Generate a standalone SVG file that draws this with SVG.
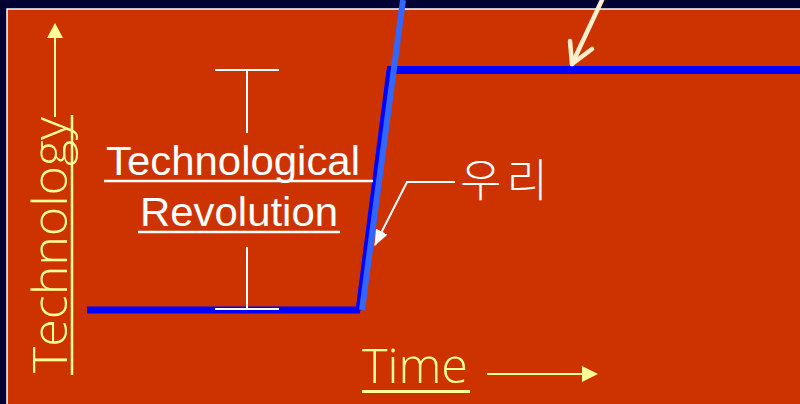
<svg xmlns="http://www.w3.org/2000/svg" width="800" height="404" viewBox="0 0 800 404">
<style>
.yel{fill:#FFFF99;font-family:"Open Sans","Liberation Sans",sans-serif;font-weight:300;font-size:48px}
.wht{fill:#FFFFFF;font-family:"Liberation Sans",Arial,sans-serif;font-size:41px}
.kor{fill:#FFFFFF;font-family:"Noto Sans CJK KR",sans-serif;font-weight:300;font-size:45px}
.yl{stroke:#FFFF99;stroke-width:2;fill:none}
.wl{stroke:#FFFFFF;stroke-width:2;fill:none}
</style>
<defs>
<marker id="wa" markerWidth="16" markerHeight="13" refX="15" refY="6.5" orient="auto" markerUnits="userSpaceOnUse" viewBox="0 0 16 13">
<path d="M0,0 L16,6.5 L0,13 Z" fill="#FFFFFF"/>
</marker>
</defs>
<rect x="0" y="0" width="800" height="404" fill="#000033"/>
<rect x="7" y="9" width="800" height="400" fill="#CC3300" stroke="#FFFFFF" stroke-width="1.5"/>
<g id="axis-technology">
<line class="yl" x1="55" y1="36" x2="55" y2="117"/>
<path d="M55,23 L63,38 L47,38 Z" fill="#FFFF99"/>
<text class="yel" transform="translate(67,373) rotate(-90)" textLength="256" lengthAdjust="spacingAndGlyphs">Technology</text>
<line x1="72" y1="115" x2="72" y2="375" stroke="#FFFF99" stroke-width="2.5"/>
</g>
<g id="axis-time">
<text class="yel" x="362" y="383" textLength="106" lengthAdjust="spacingAndGlyphs">Time</text>
<line x1="362" y1="391.5" x2="470" y2="391.5" stroke="#FFFF99" stroke-width="3"/>
<line class="yl" x1="487" y1="374" x2="584" y2="374"/>
<path d="M598,374 L582,366 L582,382 Z" fill="#FFFF99"/>
</g>
<g id="curve">
<line x1="87" y1="310" x2="360" y2="310" stroke="#0000FF" stroke-width="7"/>
<line x1="387" y1="70" x2="800" y2="70" stroke="#0000FF" stroke-width="8"/>
<line x1="358" y1="311" x2="389" y2="70" stroke="#0000FF" stroke-width="5"/>
<line x1="362" y1="310" x2="403" y2="0" stroke="#3366FF" stroke-width="6"/>
</g>
<g id="label-revolution">
<line class="wl" x1="215" y1="70" x2="279" y2="70"/>
<line class="wl" x1="247" y1="70" x2="247" y2="133"/>
<line class="wl" x1="247" y1="247" x2="247" y2="309"/>
<line class="wl" x1="215" y1="309" x2="279" y2="309"/>
<text class="wht" x="106" y="175" textLength="254" lengthAdjust="spacingAndGlyphs">Technological</text>
<line x1="104" y1="181" x2="373" y2="181" stroke="#FFFFFF" stroke-width="2.5"/>
<text class="wht" x="140" y="226" textLength="198" lengthAdjust="spacingAndGlyphs">Revolution</text>
<line x1="138" y1="232" x2="340" y2="232" stroke="#FFFFFF" stroke-width="2.5"/>
</g>
<g id="label-uri">
<text class="kor" x="460" y="197" textLength="88" lengthAdjust="spacing">우리</text>
</g>
<g id="connectors">
<polyline points="455,182 407,182 375,245" class="wl" marker-end="url(#wa)"/>
<line x1="602" y1="0" x2="572" y2="64" stroke="#FFEECC" stroke-width="4.5" stroke-linecap="round"/>
<polyline points="570,41 572,64 592,49" stroke="#FFEECC" stroke-width="4.5" stroke-linecap="round" stroke-linejoin="round" fill="none"/>
</g>
</svg>
